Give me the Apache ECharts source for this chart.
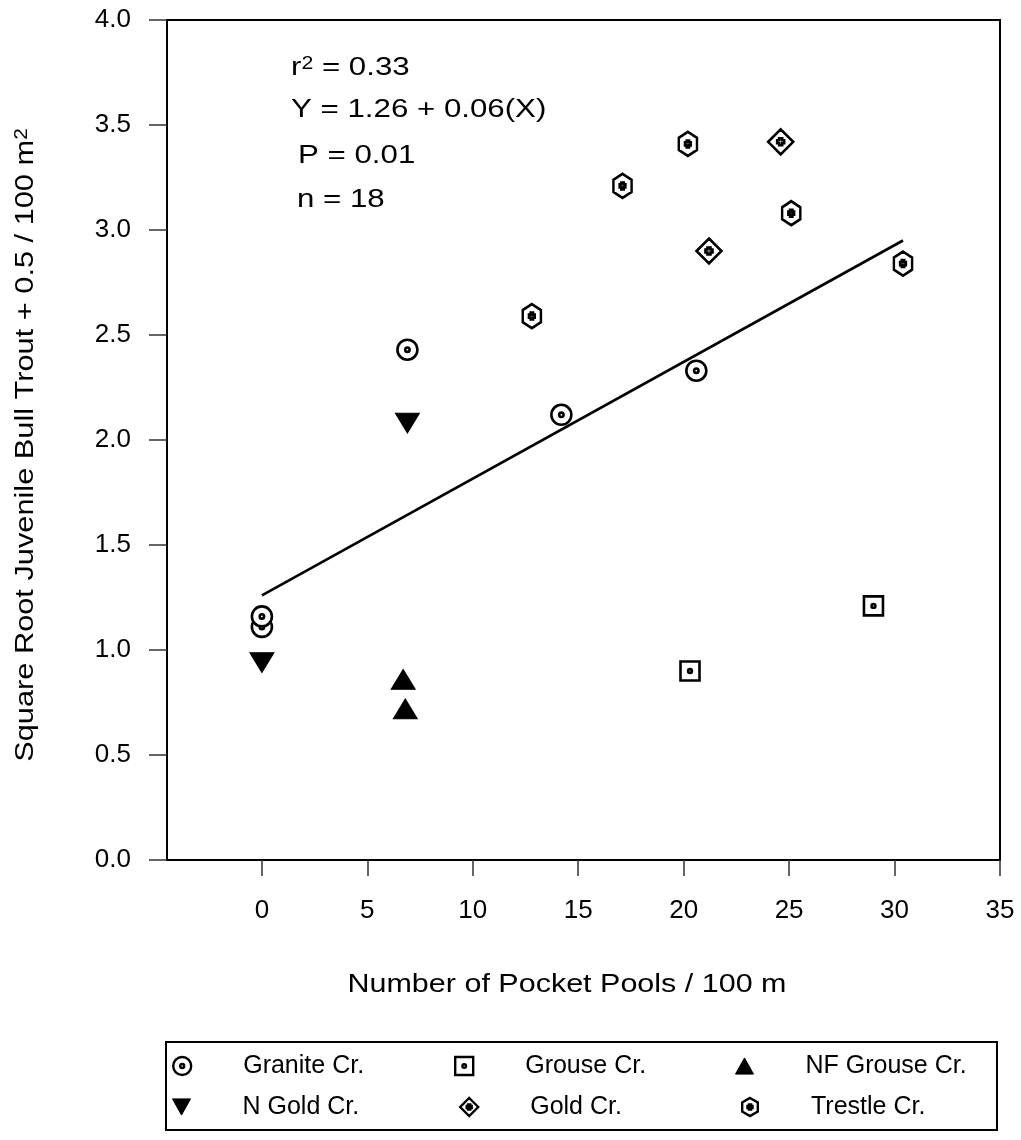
<!DOCTYPE html>
<html>
<head>
<meta charset="utf-8">
<script src="https://cdn.jsdelivr.net/npm/echarts@6/dist/echarts.min.js"></script>
<style>
html,body{margin:0;padding:0;background:#fff;}
#chart{width:1021px;height:1140px;}
</style>
</head>
<body>
<div id="chart"></div>
<script>
// ---- data ----
const xTicks = [0, 5, 10, 15, 20, 25, 30, 35];
const graniteCr = [[0, 1.11], [0, 1.16], [6.9, 2.43], [14.2, 2.12], [20.6, 2.33]];
const grouseCr = [[20.3, 0.90], [29.0, 1.21]];
const nfGrouseCr = [[6.7, 0.86], [6.8, 0.72]];
const nGoldCr = [[0, 0.94], [6.9, 2.08]];
const goldCr = [[24.6, 3.42], [21.2, 2.90]];
const trestleCr = [[20.2, 3.41], [17.1, 3.21], [25.1, 3.08], [30.4, 2.84], [12.8, 2.59]];
const regressionLine = [[0, 1.26], [30.4, 2.95]];
const statsText = ['r{sup|2} = 0.33', 'Y = 1.26 + 0.06(X)', 'P = 0.01', 'n = 18'];
const xTitle = 'Number of Pocket Pools / 100 m';
const yTitle = 'Square Root Juvenile Bull Trout + 0.5 / 100 m{sup|2}';

// ---- styling ----
const FONT = "'Liberation Sans', Arial, Helvetica, sans-serif";
const SYM = {
  circle: 'path://M50 0A50 50 0 1 1 50 100A50 50 0 1 1 50 0ZM50 39A11 11 0 1 1 50 61A11 11 0 1 1 50 39Z',
  square: 'path://M0 0H100V100H0ZM50 40A10 10 0 1 1 50 60A10 10 0 1 1 50 40Z',
  triUp: 'path://M50 0L100 90L0 90Z',
  triDown: 'path://M0 0L100 0L50 90Z',
  diamond: 'path://M50 0L100 50L50 100L0 50ZM44 36H56V44H64V56H56V64H44V56H36V44H44Z',
  hexagon: 'path://M43.3 0L86.6 25L86.6 75L43.3 100L0 75L0 25ZM37.3 36H49.3V44H57.3V56H49.3V64H37.3V56H29.3V44H37.3Z'
};
const hollow = {color: '#fff', borderColor: '#000', borderWidth: 2.6, opacity: 1};
const solid = {color: '#000', borderColor: '#000', borderWidth: 1, opacity: 1};
const hollowLegend = {color: '#fff', borderColor: '#000', borderWidth: 2.4, opacity: 1};

const seriesDefs = [
  {name: 'Granite Cr.', data: graniteCr, symbol: SYM.circle, size: 20, style: hollow, lg: hollowLegend},
  {name: 'Grouse Cr.', data: grouseCr, symbol: SYM.square, size: 19, style: hollow, lg: hollowLegend},
  {name: 'NF Grouse Cr.', data: nfGrouseCr, symbol: SYM.triUp, size: [24, 22], style: solid, lg: solid},
  {name: 'N Gold Cr.', data: nGoldCr, symbol: SYM.triDown, size: [24, 22], style: solid, lg: solid},
  {name: 'Gold Cr.', data: goldCr, symbol: SYM.diamond, size: 25, style: hollow, lg: hollowLegend},
  {name: 'Trestle Cr.', data: trestleCr, symbol: SYM.hexagon, size: [21, 24], style: hollow, lg: hollowLegend}
];
// legend slots: icon centre x, row centre y
const legendSlots = [[181, 1066], [463, 1066], [744, 1066], [181, 1107], [468, 1107], [750, 1107]];

const series = [{
  type: 'line', name: 'fit', data: regressionLine, showSymbol: false, symbol: 'none',
  lineStyle: {color: '#000', width: 2.6}, z: 1, silent: true
}].concat(seriesDefs.map(d => ({
  type: 'scatter', name: d.name, data: d.data, symbol: d.symbol, symbolSize: d.size,
  symbolKeepAspect: true, itemStyle: d.style, z: 3
})));

const ICON = 18;
const legends = seriesDefs.map((d, i) => ({
  left: legendSlots[i][0] - ICON / 2, top: legendSlots[i][1] - 13, orient: 'horizontal',
  padding: 0, itemWidth: ICON, itemHeight: ICON, selectedMode: false,
  textStyle: {fontSize: 25, fontFamily: FONT, color: '#000', lineHeight: 26, padding: [0, 0, 0, 47]},
  data: [{name: d.name, icon: d.symbol, itemStyle: d.lg}]
}));

const statPos = [[291, 68], [291, 110], [298, 156], [297, 200]];
const graphic = statsText.map((t, i) => ({
  type: 'text', x: statPos[i][0], y: statPos[i][1], scaleX: 1.25, scaleY: 1.04, z: 10,
  style: {
    text: t, fontSize: 25, fontFamily: FONT, fill: '#000', align: 'left', verticalAlign: 'middle',
    rich: {sup: {fontSize: 17, fontFamily: FONT, fill: '#000', verticalAlign: 'top'}}
  }
}));
graphic.push({
  type: 'text', x: 567, y: 985, scaleX: 1.22, scaleY: 1.04, z: 10,
  style: {text: xTitle, fontSize: 25, fontFamily: FONT, fill: '#000', align: 'center', verticalAlign: 'middle'}
});
graphic.push({
  type: 'text', x: 26, y: 445, rotation: Math.PI / 2, scaleX: 1.23, scaleY: 1.04, z: 10,
  style: {
    text: yTitle, fontSize: 25, fontFamily: FONT, fill: '#000', align: 'center', verticalAlign: 'middle',
    rich: {sup: {fontSize: 17, fontFamily: FONT, fill: '#000', verticalAlign: 'top'}}
  }
});
graphic.push({
  type: 'rect', z: 5, silent: true,
  shape: {x: 166, y: 1042, width: 831, height: 88},
  style: {fill: 'none', stroke: '#000', lineWidth: 2}
});

const option = {
  animation: false,
  backgroundColor: '#fff',
  grid: {left: 167, right: 21, top: 20, bottom: 280, show: true, borderColor: '#000', borderWidth: 2},
  xAxis: {
    type: 'value', min: -4.5, max: 35,
    splitLine: {show: false},
    axisLine: {show: true, onZero: false, lineStyle: {color: '#000', width: 2}},
    axisTick: {show: true, length: 16, customValues: xTicks, lineStyle: {color: '#333', width: 1.5}},
    axisLabel: {show: true, customValues: xTicks, margin: 38, fontSize: 26, fontFamily: FONT, color: '#000'}
  },
  yAxis: {
    type: 'value', min: 0, max: 4, interval: 0.5,
    splitLine: {show: false},
    axisLine: {show: true, onZero: false, lineStyle: {color: '#000', width: 2}},
    axisTick: {show: true, length: 18, lineStyle: {color: '#333', width: 1.5}},
    axisLabel: {margin: 36, fontSize: 26, fontFamily: FONT, color: '#000', formatter: v => v.toFixed(1)}
  },
  legend: legends,
  graphic: graphic,
  series: series
};

const chart = echarts.init(document.getElementById('chart'), null, {renderer: 'canvas'});
chart.setOption(option);
</script>
</body>
</html>
